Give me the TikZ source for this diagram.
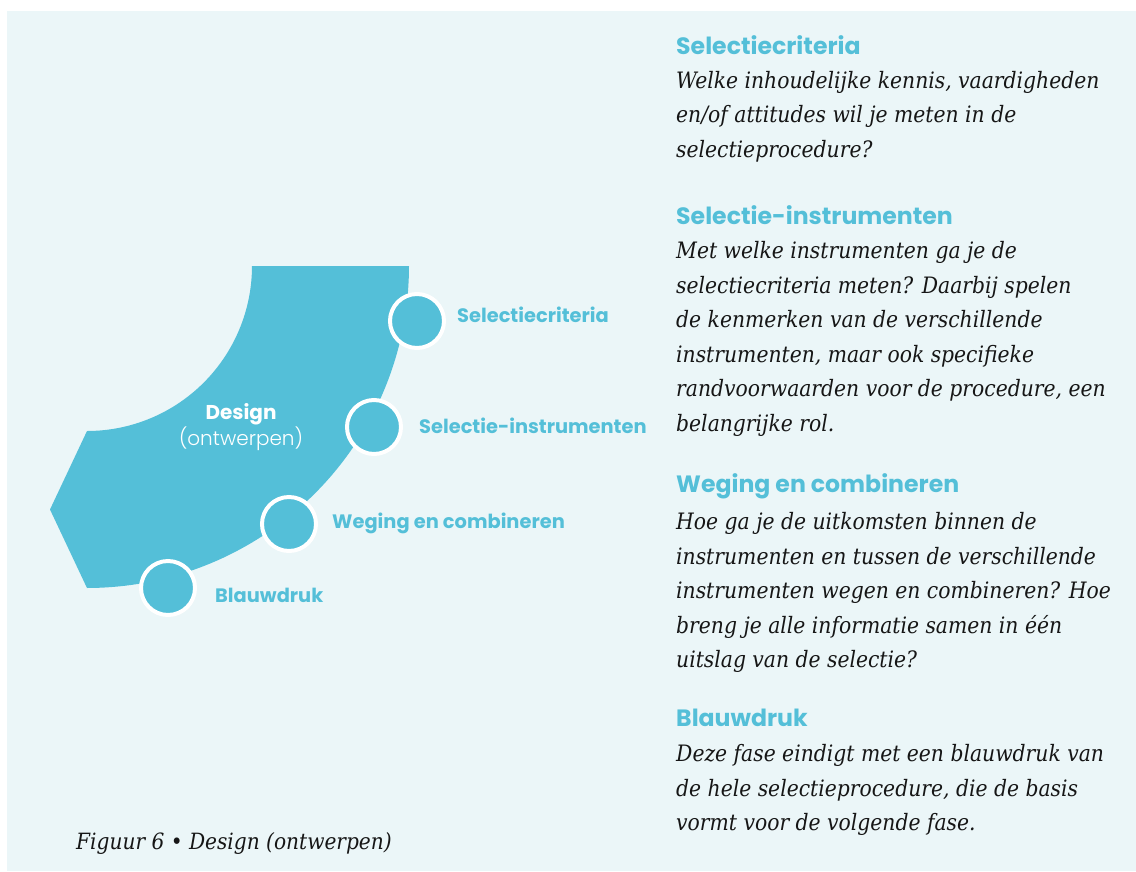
\documentclass[tikz,border=0pt]{standalone}
\usepackage{fontspec}
\setmainfont{DejaVu Serif Condensed}
\newfontfamily\pop{Poppins}
\newfontfamily\poplight{Poppins Light}
\definecolor{cy}{RGB}{84,191,216}
\definecolor{bgc}{RGB}{235,246,248}
\definecolor{txt}{RGB}{22,22,22}
\tikzset{
  dot/.style={circle,fill=cy,draw=white,line width=4pt,minimum size=54pt,inner sep=0pt},
  lab/.style={anchor=west,inner sep=0pt,text=cy,font=\pop\bfseries\fontsize{19.4}{21}\selectfont},
  head/.style={anchor=west,inner sep=0pt,text=cy,font=\pop\bfseries\fontsize{23.6}{26}\selectfont},
  body/.style={anchor=north west,inner sep=0pt,align=left,text=txt,font=\itshape\fontsize{22.6}{34.5}\selectfont},
}
\begin{document}
\begin{tikzpicture}[x=1pt,y=-1pt]
\useasboundingbox (0,0) rectangle (1136,871);
\fill[white] (0,0) rectangle (1136,871);
\fill[bgc] (7,11) rectangle (1136,871);
% ring sector with chevron tail
\fill[cy] plot[domain=0:90,samples=80] ({87+322*cos(\x)},{266+322*sin(\x)})
  -- (50,509.5) -- (87,431)
  -- plot[domain=90:0,samples=80] ({87+165*cos(\x)},{266+165*sin(\x)}) -- cycle;
\node[inner sep=0pt,text=white,font=\pop\bfseries\fontsize{20}{22}\selectfont] (dz) at (241,414) {Design};
\node[inner sep=0pt,text=white,font=\poplight\fontsize{20}{22}\selectfont] (dzo) at (241,439) {(ontwerpen)};
% dots
\node[dot] (d1) at (417,321) {};
\node[dot] (d2) at (374,427) {};
\node[dot] (d3) at (289,524) {};
\node[dot] (d4) at (168,588) {};
\node[lab] (l1) at (457,315) {Selectiecriteria};
\node[lab] (l2) at (419,426) {Selectie-instrumenten};
\node[lab] (l3) at (332,523) {Weging en combineren};
\node[lab] (l4) at (215,595) {Blauwdruk};
% right column
\node[head] (h1) at (676,45) {Selectiecriteria};
\node[body] (b1) at (676,70.7) {Welke inhoudelijke kennis, vaardigheden\\en/of attitudes wil je meten in de\\selectieprocedure?};
\node[head] (h2) at (676,215) {Selectie-instrumenten};
\node[body] (b2) at (676,241.5) {Met welke instrumenten ga je de\\selectiecriteria meten? Daarbij spelen\\de kenmerken van de verschillende\\instrumenten, maar ook specifieke\\randvoorwaarden voor de procedure, een\\belangrijke rol.};
\node[head] (h3) at (676,486) {Weging en combineren};
\node[body] (b3) at (676,512.5) {Hoe ga je de uitkomsten binnen de\\instrumenten en tussen de verschillende\\instrumenten wegen en combineren? Hoe\\breng je alle informatie samen in één\\uitslag van de selectie?};
\node[head] (h4) at (676,718) {Blauwdruk};
\node[body] (b4) at (676,744.5) {Deze fase eindigt met een blauwdruk van\\de hele selectieprocedure, die de basis\\vormt voor de volgende fase.};
\node[anchor=west,inner sep=0pt,text=txt,font=\itshape\fontsize{22.4}{26}\selectfont] (cap) at (76,843) {Figuur 6 • Design (ontwerpen)};
\end{tikzpicture}
\end{document}
